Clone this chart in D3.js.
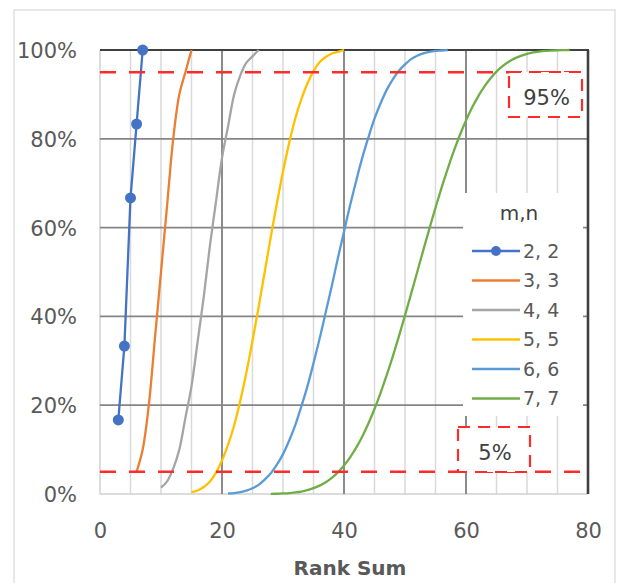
<!DOCTYPE html>
<html><head><meta charset="utf-8">
<script src="https://cdn.jsdelivr.net/npm/d3@7"></script>
<style>body{margin:0;background:#fff}svg{display:block}text{font-family:"DejaVu Sans",sans-serif}</style>
</head><body><svg id="c" width="622" height="583"></svg>
<script>
// ---- data ----
const seriesNames = ["2, 2","3, 3","4, 4","5, 5","6, 6","7, 7"];
const seriesColors = ["#4472C4","#ED7D31","#A5A5A5","#FFC000","#5B9BD5","#70AD47"];
const startRankSum = [3, 6, 10, 15, 21, 28];
const cdf22 = [0.1667,0.3333,0.6667,0.8333,1];
const cdf33 = [0.05,0.10,0.20,0.35,0.50,0.65,0.80,0.90,0.95,1.00];
const cdf44 = [0.0143,0.0286,0.0571,0.1000,0.1714,0.2429,0.3429,0.4429,0.5571,0.6571,0.7571,0.8286,0.9000,0.9429,0.9714,0.9857,1.0000];
const cdf55 = [0.0040,0.0079,0.0159,0.0278,0.0476,0.0754,0.1111,0.1548,0.2103,0.2738,0.3452,0.4206,0.5000,0.5794,0.6548,0.7262,0.7897,0.8452,0.8889,0.9246,0.9524,0.9722,0.9841,0.9921,0.9960,1.0000];
const cdf66 = [0.0011,0.0022,0.0043,0.0076,0.0130,0.0206,0.0325,0.0465,0.0660,0.0898,0.1201,0.1548,0.1970,0.2424,0.2944,0.3496,0.4091,0.4686,0.5314,0.5909,0.6504,0.7056,0.7576,0.8030,0.8452,0.8799,0.9102,0.9340,0.9535,0.9675,0.9794,0.9870,0.9924,0.9957,0.9978,0.9989,1.0000];
const cdf77 = [0.0003,0.0006,0.0012,0.0020,0.0035,0.0055,0.0087,0.0131,0.0189,0.0265,0.0364,0.0487,0.0641,0.0825,0.1043,0.1297,0.1588,0.1914,0.2279,0.2675,0.3100,0.3552,0.4024,0.4508,0.5000,0.5492,0.5976,0.6448,0.6900,0.7325,0.7721,0.8086,0.8412,0.8703,0.8957,0.9175,0.9359,0.9513,0.9636,0.9735,0.9811,0.9869,0.9913,0.9945,0.9965,0.9980,0.9988,0.9994,0.9997,1.0000];
const seriesValues = [cdf22, cdf33, cdf44, cdf55, cdf66, cdf77];
const xTicks = [0, 20, 40, 60, 80];
const yTicks = [0, 0.2, 0.4, 0.6, 0.8, 1.0];
const thresholds = [0.95, 0.05];
const thresholdLabels = ["95%", "5%"];
const legendTitle = "m,n";
const xTitle = "Rank Sum";

// ---- layout ----
const FONT = "'DejaVu Sans',sans-serif";
const svg = d3.select("#c");
const x = d3.scaleLinear().domain([0, 80]).range([100, 588]);
const y = d3.scaleLinear().domain([0, 1]).range([494, 50]);

// outer frame
svg.append("rect").attr("x",14).attr("y",10).attr("width",601).attr("height",620)
  .attr("fill","none").attr("stroke","#d9d9d9").attr("stroke-width",1.2);

const g = svg.append("g");
// minor vertical grid
g.selectAll("line.minor").data(d3.range(0, 81, 5).filter(v => v % 20 !== 0)).enter().append("line")
  .attr("x1", d => x(d)).attr("x2", d => x(d)).attr("y1", y(0)).attr("y2", y(1))
  .attr("stroke", "#d9d9d9").attr("stroke-width", 1.5);
// left axis & bottom axis light
g.append("line").attr("x1",x(0)).attr("x2",x(0)).attr("y1",y(0)).attr("y2",y(1)).attr("stroke","#d0d0d0").attr("stroke-width",1.5);
g.append("line").attr("x1",x(0)).attr("x2",x(80)).attr("y1",y(0)).attr("y2",y(0)).attr("stroke","#d0d0d0").attr("stroke-width",1.5);
// major vertical grid
g.selectAll("line.majv").data([20,40,60]).enter().append("line")
  .attr("x1", d => x(d)).attr("x2", d => x(d)).attr("y1", y(0)).attr("y2", y(1))
  .attr("stroke", "#7f7f7f").attr("stroke-width", 1.8);
// major horizontal grid
g.selectAll("line.majh").data([0.2,0.4,0.6,0.8]).enter().append("line")
  .attr("x1", x(0)).attr("x2", x(80)).attr("y1", d => y(d)).attr("y2", d => y(d))
  .attr("stroke", "#858585").attr("stroke-width", 1.8);
// top and right border
g.append("line").attr("x1",x(0)).attr("x2",x(80)+1).attr("y1",y(1)).attr("y2",y(1)).attr("stroke","#404040").attr("stroke-width",2.2);
g.append("line").attr("x1",x(80)).attr("x2",x(80)).attr("y1",y(1)).attr("y2",y(0)).attr("stroke","#404040").attr("stroke-width",2.6);

// axes labels
const yAxis = d3.axisLeft(y).tickValues(yTicks).tickFormat(d3.format(".0%")).tickSize(0).tickPadding(0);
const ya = svg.append("g").attr("transform","translate(77,0)").call(yAxis);
ya.select(".domain").remove();
ya.selectAll("text").attr("font-size",21).attr("fill","#595959").attr("dy","0.36em").style("font-family",FONT);
const xAxis = d3.axisBottom(x).tickValues(xTicks).tickSize(0).tickPadding(0);
const xa = svg.append("g").attr("transform","translate(0,538)").call(xAxis);
xa.select(".domain").remove();
xa.selectAll("text").attr("font-size",21).attr("fill","#595959").attr("dy","0").style("font-family",FONT);
svg.append("text").attr("x",350).attr("y",575).attr("text-anchor","middle").attr("font-size",20)
  .attr("font-weight","bold").attr("fill","#595959").text(xTitle);

// series
const series = seriesNames.map((name, i) => ({
  name, color: seriesColors[i],
  pts: seriesValues[i].map((v, j) => [startRankSum[i] + j, v])
}));
const lineSmooth = d3.line().x(d => x(d[0])).y(d => y(d[1])).curve(d3.curveCatmullRom.alpha(0.5));
const lineStraight = d3.line().x(d => x(d[0])).y(d => y(d[1]));
const sg = svg.append("g");
series.forEach((s, i) => {
  sg.append("path").attr("d", (i === 0 ? lineStraight : lineSmooth)(s.pts))
    .attr("fill","none").attr("stroke", s.color).attr("stroke-width", 2.3).attr("stroke-linejoin","round");
});
sg.selectAll("circle").data(series[0].pts).enter().append("circle")
  .attr("cx", d => x(d[0])).attr("cy", d => y(d[1])).attr("r", 5.5).attr("fill", seriesColors[0]);

// threshold lines
svg.selectAll("line.thr").data(thresholds).enter().append("line")
  .attr("x1", x(0)).attr("x2", x(80)).attr("y1", d => y(d)).attr("y2", d => y(d))
  .attr("stroke", "#ff2a2a").attr("stroke-width", 2.6).attr("stroke-dasharray","16,13");

// legend
const lg = svg.append("g");
lg.append("rect").attr("x",463).attr("y",193).attr("width",120).attr("height",223).attr("fill","#fff");
lg.append("text").attr("x",519).attr("y",220).attr("text-anchor","middle").attr("font-size",20).attr("fill","#404040").text(legendTitle);
series.forEach((s, i) => {
  const cy = 251 + i * 29.5;
  lg.append("line").attr("x1",472).attr("x2",520).attr("y1",cy).attr("y2",cy).attr("stroke",s.color).attr("stroke-width",2.5);
  if (i === 0) lg.append("circle").attr("cx",496).attr("cy",cy).attr("r",5).attr("fill",s.color);
  lg.append("text").attr("x",523).attr("y",cy).attr("dy","0.36em").attr("font-size",19).attr("fill","#595959").text(s.name);
});

// threshold label boxes
const boxes = [{x0:509,y0:72,w:73,h:45,ty:97.5},{x0:458,y0:427,w:72,h:45,ty:452.5}];
boxes.forEach((b, i) => {
  svg.append("rect").attr("x",b.x0).attr("y",b.y0).attr("width",b.w).attr("height",b.h)
    .attr("fill","#fff").attr("stroke","#ff2a2a").attr("stroke-width",2.2).attr("stroke-dasharray","12,8");
  svg.append("text").attr("x",b.x0+b.w/2+1).attr("y",b.ty).attr("dy","0.36em").attr("text-anchor","middle")
    .attr("font-size",21).attr("fill","#404040").text(thresholdLabels[i]);
});
</script></body></html>
